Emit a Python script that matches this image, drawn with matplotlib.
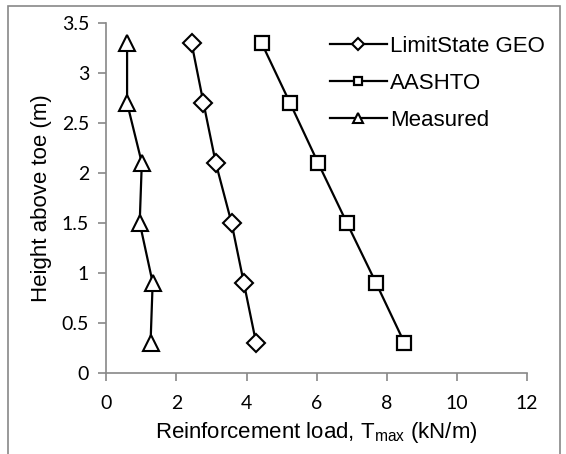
import numpy as np
import matplotlib.pyplot as plt
from matplotlib.patches import Rectangle

plt.rcParams['font.family'] = ['Liberation Sans', 'DejaVu Sans']
plt.rcParams['mathtext.fontset'] = 'custom'
plt.rcParams['mathtext.rm'] = 'Liberation Sans'

height_m = [3.3, 2.7, 2.1, 1.5, 0.9, 0.3]
limitstate = [2.43, 2.77, 3.12, 3.57, 3.92, 4.27]
aashto = [4.43, 5.24, 6.04, 6.86, 7.69, 8.5]
measured = [0.59, 0.59, 1.01, 0.95, 1.32, 1.26]

grey = '#888888'

fig = plt.figure(figsize=(5.66, 4.54), dpi=100)
ax = fig.add_axes([0.188, 0.1795, 0.743, 0.7695])

ax.plot(limitstate, height_m, 'k-', marker='D', ms=9.5, mfc='white', mec='black', mew=1.5, lw=1.6, label='LimitState GEO')
ax.plot(aashto, height_m, 'k-', marker='s', ms=10.5, mfc='white', mec='black', mew=1.6, lw=1.6, label='AASHTO')
ax.plot(measured, height_m, 'k-', marker='^', ms=11, mfc='white', mec='black', mew=1.5, lw=1.6, label='Measured')

ax.set_xlim(0, 12)
ax.set_ylim(0, 3.5)
ax.set_xticks(np.arange(0, 13, 2))
ax.set_yticks(np.arange(0, 3.6, 0.5))
ax.set_yticklabels(['0', '0.5', '1', '1.5', '2', '2.5', '3', '3.5'])
for s in ['top', 'right']:
    ax.spines[s].set_visible(False)
for s in ['left', 'bottom']:
    ax.spines[s].set_color(grey)
    ax.spines[s].set_linewidth(1.2)
ax.tick_params(direction='out', color=grey, length=5.5, width=1.2, labelsize=14)
ax.tick_params(axis='y', pad=7)
ax.tick_params(axis='x', pad=11)
for lab in ax.get_xticklabels() + ax.get_yticklabels():
    lab.set_family('Lato')

ax.set_xlabel('Reinforcement load, T$_{\\mathrm{max}}$ (kN/m)', fontsize=16)
ax.set_ylabel('Height above toe (m)', fontsize=16)
ax.xaxis.set_label_coords(0.5, -0.135)
ax.yaxis.set_label_coords(-0.13, 0.5)

leg = ax.legend(loc='upper left', frameon=False, prop={'size': 16}, markerscale=0.6,
                handlelength=2.55, handletextpad=0.15, labelspacing=0.72,
                borderpad=0, borderaxespad=0,
                bbox_to_anchor=(330 / 566, 1 - 36 / 454), bbox_transform=fig.transFigure)

fig.patches.append(Rectangle((8 / 566, -0.05), 552 / 566, 1.05 - 6 / 454,
                             transform=fig.transFigure, fill=False,
                             edgecolor=grey, lw=1.2))

fig.savefig('out.png', dpi=100)
